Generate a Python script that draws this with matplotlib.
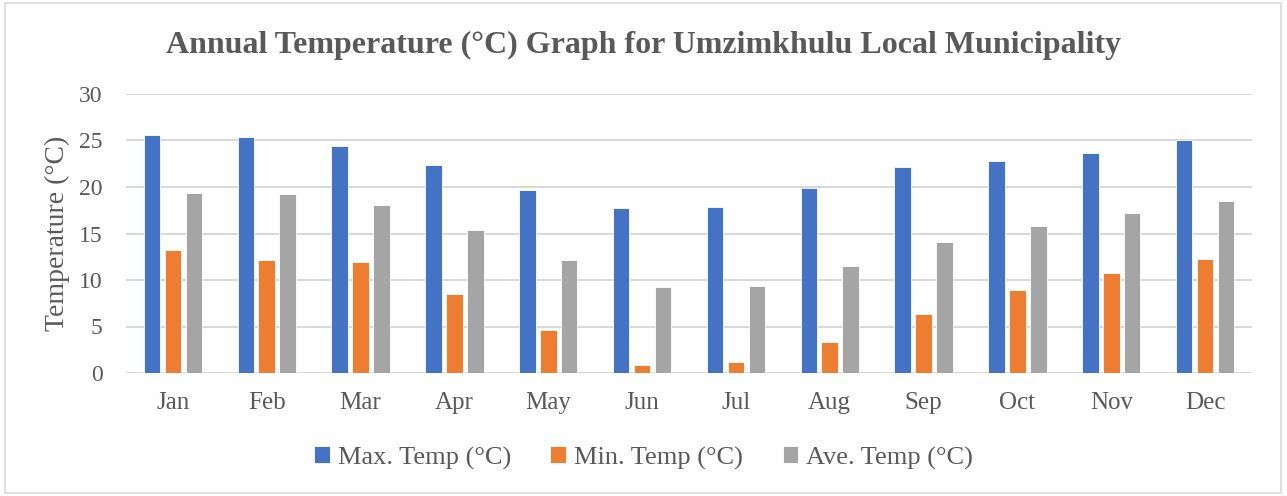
import matplotlib.pyplot as plt
import numpy as np
from matplotlib.patches import Rectangle

months = ['Jan', 'Feb', 'Mar', 'Apr', 'May', 'Jun', 'Jul', 'Aug', 'Sep', 'Oct', 'Nov', 'Dec']
max_temp = [25.6, 25.4, 24.4, 22.4, 19.7, 17.7, 17.9, 19.9, 22.1, 22.8, 23.7, 25.0]
min_temp = [13.2, 12.2, 11.9, 8.5, 4.6, 0.9, 1.2, 3.3, 6.3, 8.9, 10.8, 12.3]
ave_temp = [19.4, 19.3, 18.1, 15.4, 12.1, 9.3, 9.4, 11.5, 14.1, 15.8, 17.2, 18.5]
series_names = ['Max. Temp (°C)', 'Min. Temp (°C)', 'Ave. Temp (°C)']

plt.rcParams['font.family'] = ['Liberation Serif', 'DejaVu Serif']
text_col = '#595959'

fig = plt.figure(figsize=(12.87, 4.96), dpi=100)
ax = fig.add_axes([126 / 1287, 1 - 373 / 496, (1252 - 126) / 1287, (373 - 94) / 496])

x = np.arange(len(months))
width = 0.176
step = 0.223
colors = ['#4472C4', '#ED7D31', '#A5A5A5']
handles = []
for i, (vals, col) in enumerate(zip([max_temp, min_temp, ave_temp], colors)):
    b = ax.bar(x + (i - 1) * step, vals, width=width, color=col,
               edgecolor='white', linewidth=0.6, label=series_names[i], zorder=3)
    handles.append(b)

ax.set_xlim(-0.5, 11.5)
ax.set_ylim(0, 30)
ax.set_yticks(np.arange(0, 31, 5))
ax.set_xticks(x)
ax.set_xticklabels(months)
ax.grid(axis='y', color='#D9D9D9', linewidth=1.5, zorder=0)
ax.set_axisbelow(True)
for s in ax.spines.values():
    s.set_visible(False)
ax.tick_params(axis='y', length=0, labelsize=17, labelcolor=text_col, pad=17)
ax.tick_params(axis='x', length=0, labelsize=18, labelcolor=text_col, pad=14)
ax.set_ylabel('Temperature (°C)', fontsize=20, color=text_col, labelpad=6)

fig.suptitle('Annual Temperature (°C) Graph for Umzimkhulu Local Municipality',
             x=0.5, y=1 - 45 / 496, va='center', fontsize=23, fontweight='bold', color=text_col)

fig.legend(handles=handles, labels=series_names, loc='center', bbox_to_anchor=(0.5, 1 - 458 / 496),
           ncol=3, frameon=False, fontsize=19, labelcolor=text_col,
           handlelength=0.6, handleheight=0.6, handletextpad=0.3, columnspacing=1.5)

fig.patches.append(Rectangle((5 / 1287, 3 / 496), 1276 / 1287, 490 / 496, transform=fig.transFigure,
                             fill=False, edgecolor='#D9D9D9', linewidth=1.2))

fig.savefig('out.png', dpi=100)
